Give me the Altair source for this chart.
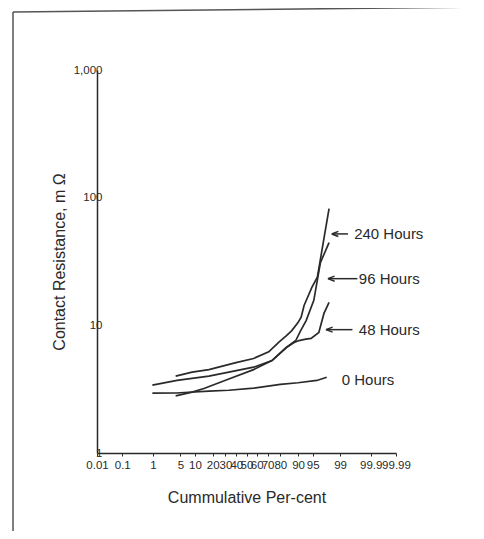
import altair as alt
import pandas as pd
from statistics import NormalDist

_nd = NormalDist()

def pz(p):
    return _nd.inv_cdf(p / 100.0)

# ---- data (cumulative percent, contact resistance mOhm)
h0_pct = [0.96, 4.0, 17.5, 33.0, 57.0, 80.0, 90.0, 96.0, 97.7]
h0_res = [2.94, 2.95, 3.05, 3.1, 3.22, 3.45, 3.55, 3.7, 3.92]

h48_pct = [3.9, 8.8, 14.5, 33.0, 57.0, 73.7, 84.0, 88.0, 90.4, 93.0, 94.6, 96.4, 97.3, 98.0]
h48_res = [2.8, 3.0, 3.2, 3.8, 4.5, 5.3, 6.7, 7.3, 7.6, 7.8, 7.9, 8.8, 12.4, 15.1]

h96_pct = [0.96, 4.2, 17.5, 33.0, 57.0, 73.7, 83.7, 89.0, 91.0, 93.1, 95.3, 96.7, 98.0]
h96_res = [3.4, 3.7, 4.0, 4.3, 4.7, 5.3, 6.7, 7.6, 9.0, 10.9, 15.7, 31.0, 44.5]

h240_pct = [3.9, 8.8, 17.5, 39.7, 57.0, 71.0, 79.0, 84.0, 87.0, 90.0, 91.3, 92.4, 94.8, 96.1, 96.6, 97.3, 98.0]
h240_res = [4.0, 4.3, 4.5, 5.1, 5.5, 6.2, 7.4, 8.3, 9.1, 10.5, 11.6, 14.3, 19.8, 23.8, 31.0, 48.0, 82.0]

series_names = ["0 Hours", "48 Hours", "96 Hours", "240 Hours"]
series_pct = [h0_pct, h48_pct, h96_pct, h240_pct]
series_res = [h0_res, h48_res, h96_res, h240_res]

# tick labels of the probability axis
x_ticks = [0.01, 0.1, 1, 5, 10, 20, 30, 40, 50, 60, 70, 80, 90, 95, 99, 99.9, 99.99]
x_tick_labels = ["0.01", "0.1", "1", "5", "10", "20", "30", "40", "50", "60", "70",
                 "80", "90", "95", "99", "99.9", "99.99"]
y_ticks = [1, 10, 100, 1000]

# annotations: label, arrow tip %, arrow tail %, text start %, resistance level
ann_labels = ["240 Hours", "96 Hours", "48 Hours", "0 Hours"]
ann_tip = [98.33, 97.9, 97.64, None]
ann_tail = [99.42, 99.71, 99.58, None]
ann_text = [99.63, 99.74, 99.74, 99.11]
ann_res = [52.0, 23.2, 9.25, 3.72]

# ---- tables
rows = []
for name, pcts, vals in zip(series_names, series_pct, series_res):
    for i, (p, v) in enumerate(zip(pcts, vals)):
        rows.append({"series": name, "order": i, "z": pz(p), "r": v})
df = pd.DataFrame(rows)

arrow_rows = []
text_rows = []
for lab, tip, tail, tx, r in zip(ann_labels, ann_tip, ann_tail, ann_text, ann_res):
    if tip is not None:
        arrow_rows.append({"z": pz(tip), "z2": pz(tail), "r": r})
    text_rows.append({"label": lab, "z": pz(tx), "r": r})
arrows_df = pd.DataFrame(arrow_rows)
text_df = pd.DataFrame(text_rows)

tick_z = [pz(p) for p in x_ticks]
zmin, zmax = tick_z[0], tick_z[-1]

# label expression: map tick positions back to percent labels
expr = ""
for i in range(len(tick_z) - 1):
    mid = (tick_z[i] + tick_z[i + 1]) / 2
    expr += f"datum.value < {mid:.5f} ? '{x_tick_labels[i]}' : "
expr += f"'{x_tick_labels[-1]}'"

FONT = "Liberation Sans"
INK = "#2a2a2a"

xscale = alt.Scale(domain=[zmin, zmax], nice=False, zero=False)
yscale = alt.Scale(type="log", domain=[1, 1000], nice=False)

x_axis = alt.Axis(values=tick_z, labelExpr=expr, title="Cummulative Per-cent",
                  grid=False, labelOverlap=False, labelFontSize=11.5, labelFont=FONT,
                  labelColor=INK, tickSize=3, tickColor=INK, domainColor=INK,
                  domainWidth=1.5, labelPadding=3, titleFont=FONT, titleFontSize=16,
                  titleFontWeight="normal", titleColor=INK, titlePadding=19,
                  labelFlush=False, labelBound=False)
y_axis = alt.Axis(values=y_ticks, format=",", title="Contact Resistance, m Ω",
                  grid=False, labelOverlap=False, labelFontSize=11.5, labelFont=FONT,
                  labelColor=INK, tickSize=0, domainColor=INK, domainWidth=1.5,
                  labelPadding=-5, titleFont=FONT, titleFontSize=16,
                  titleFontWeight="normal", titleColor=INK, titlePadding=6,
                  labelFlush=False, labelBound=False)

def xe():
    return alt.X("z:Q", scale=xscale, axis=x_axis)

def ye():
    return alt.Y("r:Q", scale=yscale, axis=y_axis)

lines = alt.Chart(df).mark_line(color=INK, strokeWidth=1.7).encode(
    x=xe(), y=ye(), detail="series:N", order="order:Q"
)

arrow_shafts = alt.Chart(arrows_df).mark_rule(color=INK, strokeWidth=1.5).encode(
    x=xe(), x2="z2:Q", y=ye()
)
arrow_heads = alt.Chart(arrows_df).mark_point(
    shape="M-1,0L1,-0.75M-1,0L1,0.75", filled=False, color=INK, strokeWidth=1.5,
    size=45, opacity=1, xOffset=3
).encode(x=xe(), y=ye())

labels = alt.Chart(text_df).mark_text(
    align="left", baseline="middle", font=FONT, fontSize=15, color=INK
).encode(x=xe(), y=ye(), text="label:N")

frame_df = pd.DataFrame({"k": [0]})
frame_left = alt.Chart(frame_df).mark_rule(color="#555555", strokeWidth=1.5).encode(
    x=alt.value(-84), x2=alt.value(-84), y=alt.value(-58), y2=alt.value(470)
)
frame_top = alt.Chart(frame_df).mark_rule(color="#555555", strokeWidth=1.5).encode(
    x=alt.value(-84), x2=alt.value(390), y=alt.value(-58), y2=alt.value(-63)
)

chart = alt.layer(lines, arrow_shafts, arrow_heads, labels, frame_left, frame_top).properties(
    width=299, height=383,
    autosize=alt.AutoSizeParams(type="none"),
    padding={"left": 89, "top": 62, "right": 80, "bottom": 78},
).configure(
    background="white",
    view=alt.ViewConfig(stroke=None, strokeWidth=0),
    axis=alt.AxisConfig(labelOverlap=False),
)

chart.save("out.html", embed_options={"renderer": "svg", "actions": False})
